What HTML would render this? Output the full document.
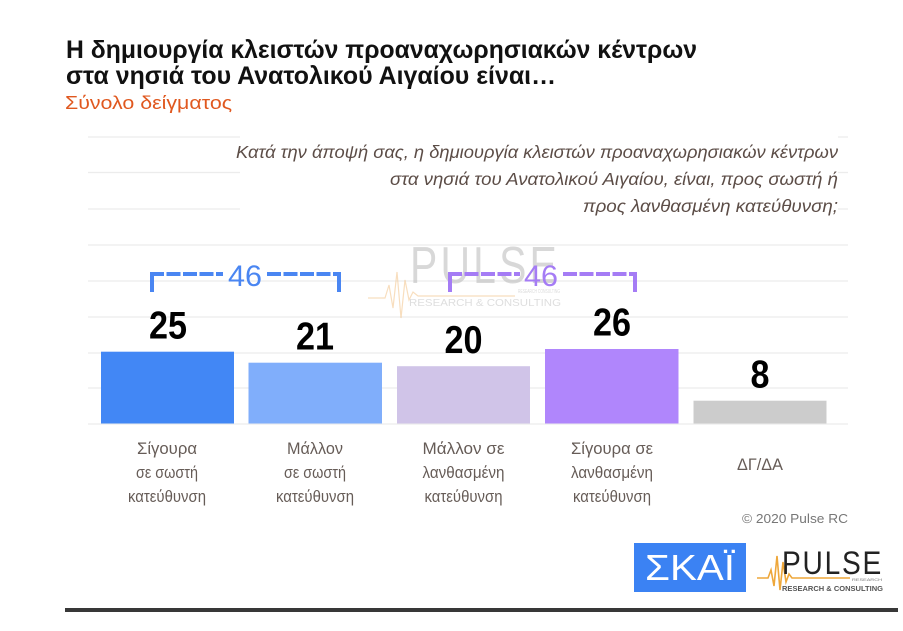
<!DOCTYPE html>
<html>
<head>
<meta charset="utf-8">
<style>
html,body{margin:0;padding:0;background:#fff;}
svg{display:block;}
text{font-family:"Liberation Sans","Noto Sans CJK SC",sans-serif;}
</style>
</head>
<body>
<svg width="903" height="631" viewBox="0 0 903 631" xmlns="http://www.w3.org/2000/svg">
  <rect x="0" y="0" width="903" height="631" fill="#ffffff"/>

  <!-- Title -->
  <text x="66" y="58" font-size="25" font-weight="bold" fill="#111" textLength="631" lengthAdjust="spacingAndGlyphs">Η δημιουργία κλειστών προαναχωρησιακών κέντρων</text>
  <text x="66" y="84" font-size="25" font-weight="bold" fill="#111" textLength="490" lengthAdjust="spacingAndGlyphs">στα νησιά του Ανατολικού Αιγαίου είναι…</text>
  <text x="65" y="109" font-size="18" fill="#e0581f" textLength="167" lengthAdjust="spacingAndGlyphs">Σύνολο δείγματος</text>

  <!-- gridlines -->
  <g stroke="#ececec" stroke-width="1.3">
    <line x1="88" y1="137" x2="848" y2="137"/>
    <line x1="88" y1="172.5" x2="848" y2="172.5"/>
    <line x1="88" y1="209" x2="848" y2="209"/>
    <line x1="88" y1="245" x2="848" y2="245"/>
    <line x1="88" y1="281" x2="848" y2="281"/>
    <line x1="88" y1="317" x2="848" y2="317"/>
    <line x1="88" y1="353" x2="848" y2="353"/>
    <line x1="88" y1="388" x2="848" y2="388"/>
    <line x1="88" y1="424" x2="848" y2="424"/>
  </g>
  <!-- question box -->
  <rect x="240" y="128" width="598" height="90" fill="#ffffff"/>
  <g font-size="18" font-style="italic" fill="#5c4d47" text-anchor="end">
    <text x="838" y="158" textLength="602" lengthAdjust="spacingAndGlyphs">Κατά την άποψή σας, η δημιουργία κλειστών προαναχωρησιακών κέντρων</text>
    <text x="838" y="185" textLength="448" lengthAdjust="spacingAndGlyphs">στα νησιά του Ανατολικού Αιγαίου, είναι, προς σωστή ή</text>
    <text x="838" y="212" textLength="255" lengthAdjust="spacingAndGlyphs">προς λανθασμένη κατεύθυνση;</text>
  </g>

  <!-- watermark -->
  <g opacity="0.55">
    <polyline points="368,298 385,298 389,285 393,308 397,272 401,318 405,280 409,300 413,292 418,296 515,296" fill="none" stroke="#f3c48a" stroke-width="1.2"/>
    <text x="410" y="283" font-size="52" fill="#b9b9b9" textLength="150" lengthAdjust="spacingAndGlyphs" font-weight="normal" style="letter-spacing:4px">PULSE</text>
    <text x="518" y="293" font-size="5" fill="#bdbdbd" textLength="42" lengthAdjust="spacingAndGlyphs">RESEARCH CONSULTING</text>
    <text x="409" y="306" font-size="10" fill="#c4c4c4" textLength="152" lengthAdjust="spacingAndGlyphs">RESEARCH &amp; CONSULTING</text>
  </g>

  <!-- blue bracket -->
  <g stroke="#4a86f2" stroke-width="4" fill="none">
    <line x1="152" y1="272" x2="152" y2="292"/>
    <line x1="150" y1="274" x2="223" y2="274" stroke-dasharray="14 2.5"/>
    <line x1="267" y1="274" x2="341" y2="274" stroke-dasharray="14 2.5"/>
    <line x1="339" y1="272" x2="339" y2="292"/>
  </g>
  <text x="245" y="286" font-size="30" fill="#4a86f2" text-anchor="middle" textLength="34" lengthAdjust="spacingAndGlyphs">46</text>

  <!-- purple bracket -->
  <g stroke="#a57cf5" stroke-width="4" fill="none">
    <line x1="450" y1="272" x2="450" y2="292"/>
    <line x1="448" y1="274" x2="520" y2="274" stroke-dasharray="14 2.5"/>
    <line x1="563" y1="274" x2="637" y2="274" stroke-dasharray="14 2.5"/>
    <line x1="635" y1="272" x2="635" y2="292"/>
  </g>
  <text x="541" y="286" font-size="30" fill="#a57cf5" text-anchor="middle" textLength="34" lengthAdjust="spacingAndGlyphs">46</text>

  <!-- bars -->
  <rect x="101" y="351.7" width="133" height="71.8" fill="#4287f5"/>
  <rect x="248.5" y="362.7" width="133.5" height="60.8" fill="#80aefb"/>
  <rect x="397" y="366.2" width="133" height="57.3" fill="#d0c4e8"/>
  <rect x="545" y="349" width="133.5" height="74.5" fill="#b086fc"/>
  <rect x="693.5" y="400.7" width="133" height="22.8" fill="#cccccc"/>

  <!-- value labels -->
  <g font-size="39" font-weight="bold" fill="#000" text-anchor="middle">
    <text x="168" y="338.5" textLength="38" lengthAdjust="spacingAndGlyphs">25</text>
    <text x="315" y="349.5" textLength="38" lengthAdjust="spacingAndGlyphs">21</text>
    <text x="463.5" y="353" textLength="38" lengthAdjust="spacingAndGlyphs">20</text>
    <text x="612" y="335.5" textLength="38" lengthAdjust="spacingAndGlyphs">26</text>
    <text x="760" y="387.5" textLength="19" lengthAdjust="spacingAndGlyphs">8</text>
  </g>

  <!-- category labels -->
  <g font-size="17" fill="#665c57" text-anchor="middle">
    <text x="167" y="454" textLength="60" lengthAdjust="spacingAndGlyphs">Σίγουρα</text>
    <text x="167" y="478" textLength="62" lengthAdjust="spacingAndGlyphs">σε σωστή</text>
    <text x="167" y="502" textLength="78" lengthAdjust="spacingAndGlyphs">κατεύθυνση</text>

    <text x="315" y="454" textLength="56" lengthAdjust="spacingAndGlyphs">Μάλλον</text>
    <text x="315" y="478" textLength="62" lengthAdjust="spacingAndGlyphs">σε σωστή</text>
    <text x="315" y="502" textLength="78" lengthAdjust="spacingAndGlyphs">κατεύθυνση</text>

    <text x="463.5" y="454" textLength="82" lengthAdjust="spacingAndGlyphs">Μάλλον σε</text>
    <text x="463.5" y="478" textLength="82" lengthAdjust="spacingAndGlyphs">λανθασμένη</text>
    <text x="463.5" y="502" textLength="78" lengthAdjust="spacingAndGlyphs">κατεύθυνση</text>

    <text x="612" y="454" textLength="82" lengthAdjust="spacingAndGlyphs">Σίγουρα σε</text>
    <text x="612" y="478" textLength="82" lengthAdjust="spacingAndGlyphs">λανθασμένη</text>
    <text x="612" y="502" textLength="78" lengthAdjust="spacingAndGlyphs">κατεύθυνση</text>

    <text x="760" y="470" textLength="46" lengthAdjust="spacingAndGlyphs">ΔΓ/ΔΑ</text>
  </g>

  <!-- copyright -->
  <text x="848" y="523" font-size="13" fill="#777" text-anchor="end" textLength="106" lengthAdjust="spacingAndGlyphs">© 2020 Pulse RC</text>

  <!-- SKAI logo -->
  <rect x="634" y="543" width="112" height="49" fill="#3b82f3"/>
  <text x="690" y="580" font-size="36" fill="#ffffff" text-anchor="middle" textLength="90" lengthAdjust="spacingAndGlyphs" font-weight="normal">ΣΚΑΪ</text>

  <!-- PULSE logo -->
  <polyline points="757,578 768,578 771,570 774,586 777,556 780,590 783,562 786,582 789,574 792,578 850,578" fill="none" stroke="#eea73a" stroke-width="1.6"/>
  <text x="782" y="574" font-size="32" fill="#222" textLength="101" lengthAdjust="spacingAndGlyphs" style="letter-spacing:2px">PULSE</text>
  <text x="852" y="581" font-size="4" fill="#777" textLength="30" lengthAdjust="spacingAndGlyphs">RESEARCH</text>
  <text x="782" y="591" font-size="7.5" font-weight="bold" fill="#555" textLength="101" lengthAdjust="spacingAndGlyphs">RESEARCH &amp; CONSULTING</text>

  <!-- bottom rule -->
  <rect x="65" y="608" width="833" height="4" fill="#383838"/>
</svg>
</body>
</html>
